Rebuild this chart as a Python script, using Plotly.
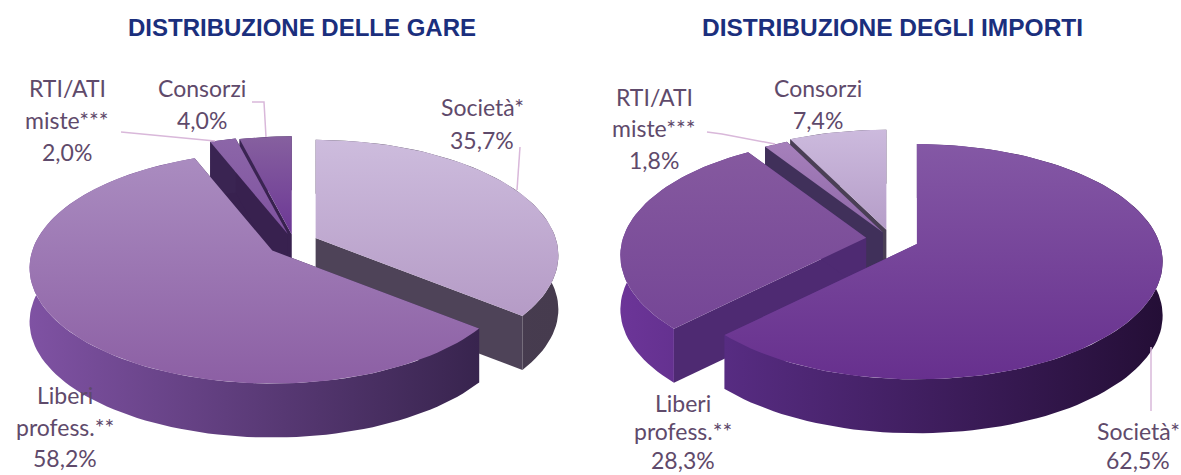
import math
import plotly.graph_objects as go

WIDTH, HEIGHT = 1181, 475

# ---- data ----
categories = ["Società*", "Liberi profess.**", "RTI/ATI miste***", "Consorzi"]
gare_values = [35.7, 58.2, 2.0, 4.0]
importi_values = [62.5, 28.3, 1.8, 7.4]
gare_title = "DISTRIBUZIONE DELLE GARE"
importi_title = "DISTRIBUZIONE DEGLI IMPORTI"

# ---- styling ----
# pull of each slice (same order as categories), in pixels
gare_pull = [24, 27, 20, 18]
importi_pull = [28, 25, 16, 20]
# colours: top gradient (far, near), wall gradient (left, right), side wall
gare_colors = [
    dict(top=("#cdbcdd", "#b59bc6"), wall=("#4a3f54", "#463b4e"), side="#4e4358"),
    dict(top=("#aa8cc0", "#8c5fa4"), wall=("#7f52a3", "#38244e"), side="#38244e"),
    dict(top=("#8c66a8", "#7f52a0"), wall=("#3a2452", "#3a2452"), side="#38214f"),
    dict(top=("#86609f", "#6c3795"), wall=("#3a2452", "#3a2452"), side="#38214f"),
]
importi_colors = [
    dict(top=("#8458a5", "#67308e"), wall=("#572c82", "#240e36"), side="#572c82"),
    dict(top=("#85599f", "#754696"), wall=("#6c3598", "#5a2c85"), side="#4e2a72"),
    dict(top=("#a680bb", "#8f68a9"), wall=("#40305a", "#40305a"), side="#40305a"),
    dict(top=("#ccbadd", "#b59dc8"), wall=("#4a3f55", "#4a3f55"), side="#4a3f55"),
]
GARE_CENTER = (294.0, 243.0)
IMPORTI_CENTER = (891.0, 239.0)
GARE_SHAPE = dict(R=240.0, K=113.0)
IMPORTI_SHAPE = dict(R=243.0, K=115.0)
P, DEPTH = 0.15, 54.0
GARE_ORDER = [3, 2, 0, 1]
IMPORTI_ORDER = [3, 2, 1, 0]

FONT = "Lato, 'Open Sans', sans-serif"
LABEL_COLOR = "#5f4a6b"
LEADER_COLOR = "#d9b8da"
TITLE_COLOR = "#1b2f7d"


def project(apex, angle, R, K):
    """Angle in degrees, clockwise from 12 o'clock; perspective squeezes far points."""
    a = math.radians(angle)
    X, Y = math.sin(a), math.cos(a)
    s = 1.0 / (1.0 + P * Y)
    return apex[0] + R * X * s, apex[1] - K * Y * s


def arc(apex, a0, a1, R, K):
    n = max(2, int(abs(a1 - a0) / 2) + 1)
    return [project(apex, a0 + (a1 - a0) * i / (n - 1), R, K) for i in range(n)]


def poly_trace(pts, fill=None, gradient=None):
    xs = [p[0] for p in pts] + [pts[0][0]]
    ys = [p[1] for p in pts] + [pts[0][1]]
    kw = dict(x=xs, y=ys, mode="lines", fill="toself", hoverinfo="skip",
              showlegend=False, line=dict(width=0))
    if gradient:
        kw["fillgradient"] = gradient
        kw["fillcolor"] = "rgba(0,0,0,0)"
    else:
        kw["fillcolor"] = fill
    return go.Scatter(**kw)


def add_pie(fig, values, pulls, colors, center, order, shape):
    R, K = shape["R"], shape["K"]
    total = sum(values)
    starts, a = [], 0.0
    for v in values:
        starts.append(a)
        a += v / total * 360.0
    for i in order:
        a0 = starts[i]
        a1 = a0 + values[i] / total * 360.0
        mid = math.radians((a0 + a1) / 2)
        apex = (center[0] + pulls[i] * math.sin(mid),
                center[1] - pulls[i] * math.cos(mid) * K / R)
        c = colors[i]
        rim = arc(apex, a0, a1, R, K)
        # radial side walls
        for end in (rim[0], rim[-1]):
            quad = [apex, end, (end[0], end[1] + DEPTH), (apex[0], apex[1] + DEPTH)]
            fig.add_trace(poly_trace(quad, fill=c["side"]))
        # outer wall
        wall = rim + [(x, y + DEPTH) for x, y in reversed(rim)]
        xs = [p[0] for p in wall]
        fig.add_trace(poly_trace(wall, gradient=dict(
            type="horizontal", start=min(xs), stop=max(xs),
            colorscale=[[0, c["wall"][0]], [1, c["wall"][1]]])))
        # top face
        top = [apex] + rim
        ys = [p[1] for p in top]
        fig.add_trace(poly_trace(top, gradient=dict(
            type="vertical", start=min(ys), stop=max(ys),
            colorscale=[[0, c["top"][0]], [1, c["top"][1]]])))


fig = go.Figure()
add_pie(fig, gare_values, gare_pull, gare_colors, GARE_CENTER, GARE_ORDER, GARE_SHAPE)
add_pie(fig, importi_values, importi_pull, importi_colors, IMPORTI_CENTER, IMPORTI_ORDER, IMPORTI_SHAPE)

# leader lines
leaders = [
    [(517, 190), (520, 147)],
    [(266, 137), (264, 102), (252, 102)],
    [(121, 132), (215, 141)],
    [(707, 132), (722, 134), (775, 144)],
    [(1151, 347), (1151, 411)],
]
for pts in leaders:
    fig.add_trace(go.Scatter(x=[p[0] for p in pts], y=[p[1] for p in pts], mode="lines",
                             hoverinfo="skip", showlegend=False,
                             line=dict(color=LEADER_COLOR, width=1.5)))


def fmt(v):
    return f"{v:.1f}".replace(".", ",") + "%"


def label(x, ys, lines):
    for y, t in zip(ys, lines):
        fig.add_annotation(x=x, y=y, text=t, showarrow=False, xanchor="center", yanchor="middle",
                           font=dict(family=FONT, size=23, color=LABEL_COLOR))


label(67, (88, 120, 152), ["RTI/ATI", "miste***", fmt(gare_values[2])])
label(202, (88, 120), ["Consorzi", fmt(gare_values[3])])
label(482, (107, 140), ["Società*", fmt(gare_values[0])])
label(65, (395, 427, 458), ["Liberi", "profess.**", fmt(gare_values[1])])
label(654, (97, 128, 160), ["RTI/ATI", "miste***", fmt(importi_values[2])])
label(818, (88, 120), ["Consorzi", fmt(importi_values[3])])
label(1138, (431, 460), ["Società*", fmt(importi_values[0])])
label(683, (403, 431, 460), ["Liberi", "profess.**", fmt(importi_values[1])])

for x, t, size in ((302, gare_title, 24), (892, importi_title, 24.5)):
    fig.add_annotation(x=x, y=27, text=f"<b>{t}</b>", showarrow=False,
                       xanchor="center", yanchor="middle",
                       font=dict(family="'Liberation Sans', Arial, sans-serif", size=size, color=TITLE_COLOR))

fig.update_layout(
    width=WIDTH, height=HEIGHT, margin=dict(l=0, r=0, t=0, b=0),
    paper_bgcolor="white", plot_bgcolor="white", showlegend=False,
    xaxis=dict(range=[0, WIDTH], visible=False, fixedrange=True),
    yaxis=dict(range=[HEIGHT, 0], visible=False, fixedrange=True),
)
fig.write_html("out.html", config=dict(displayModeBar=False),
               post_script="document.body.style.margin='0';document.documentElement.style.overflow='hidden';")
